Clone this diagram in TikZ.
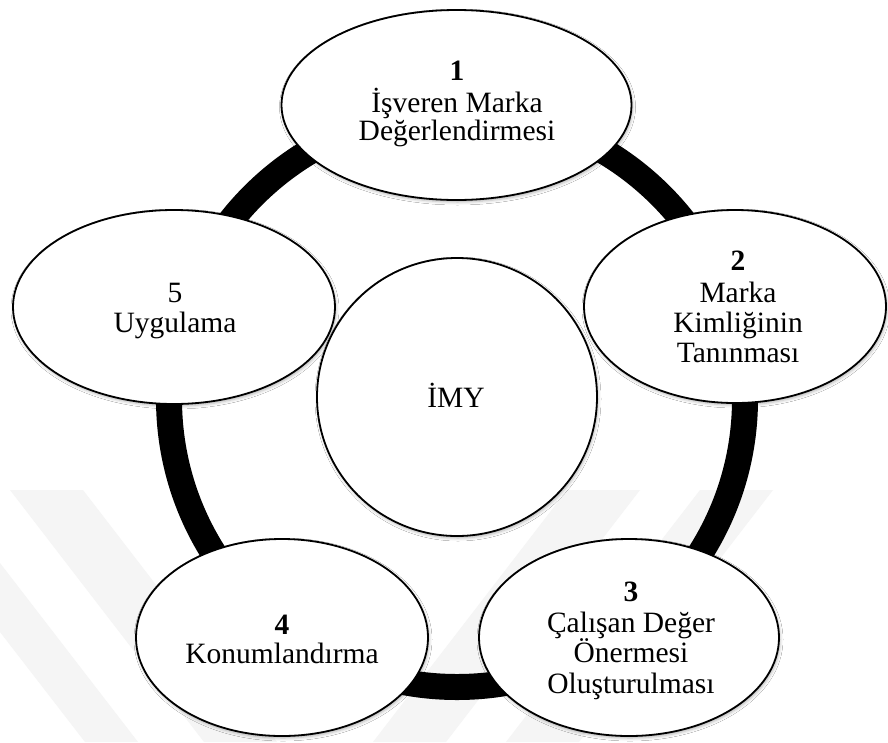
\documentclass[tikz,border=0pt]{standalone}
\usepackage{fontspec}
\setmainfont{Liberation Serif}
\usetikzlibrary{shapes.geometric,shadows.blur}

\begin{document}
\begin{tikzpicture}[x=1pt,y=-1pt,
  stage/.style={ellipse, draw=black, line width=1.8pt, fill=white, inner sep=0pt,
    blur shadow={shadow xshift=1pt, shadow yshift=-2pt, shadow blur radius=3pt, shadow opacity=30}},
  lbl/.style={anchor=base, inner sep=0pt, font=\fontsize{29.5}{30}\selectfont},
  num/.style={anchor=base, inner sep=0pt, font=\fontsize{29.5}{30}\selectfont\bfseries},
  band/.style={fill=black!4, draw=none}
]
% page area
\fill[white] (0,0) rectangle (888,742);
\useasboundingbox (0,0) rectangle (888,742);

% faint background emblem
\fill[band] (10,490) -- (83,490) -- (277,742) -- (204,742) -- cycle;
\fill[band] (0,563) -- (138,742) -- (85,742) -- (0,632) -- cycle;
\fill[band] (700,490) -- (773,490) -- (579,742) -- (506,742) -- cycle;
\fill[band] (567,490) -- (640,490) -- (446,742) -- (373,742) -- cycle;

% the cycle that joins the five stages
\node[circle, draw=black, line width=26pt, minimum size=576pt, inner sep=0pt] (ring) at (457,399) {};

% stages
\node[stage, minimum width=350pt, minimum height=190pt] (s1) at (456.5,105) {};
\node[stage, minimum width=302pt, minimum height=193pt] (s2) at (735,306.5) {};
\node[stage, minimum width=300pt, minimum height=197pt] (s3) at (629,637.5) {};
\node[stage, minimum width=292pt, minimum height=197pt] (s4) at (282,637.5) {};
\node[stage, minimum width=322pt, minimum height=194pt] (s5) at (174,307) {};
\node[stage, minimum width=280pt, minimum height=278pt] (core) at (457,397) {};

% stage texts
\node[num] (s1n) at (457,80) {1};
\node[lbl] (s1a) at (457,112) {İşveren Marka};
\node[lbl] (s1b) at (457,140) {Değerlendirmesi};

\node[num] (s2n) at (738,270) {2};
\node[lbl] (s2a) at (738,302) {Marka};
\node[lbl] (s2b) at (738,332) {Kimliğinin};
\node[lbl] (s2c) at (738,362) {Tanınması};

\node[num] (s3n) at (631,601) {3};
\node[lbl] (s3a) at (631,632) {Çalışan Değer};
\node[lbl] (s3b) at (631,662) {Önermesi};
\node[lbl] (s3c) at (631,693) {Oluşturulması};

\node[num] (s4n) at (282,634) {4};
\node[lbl] (s4a) at (282,663) {Konumlandırma};

\node[lbl] (s5n) at (175,302) {5};
\node[lbl] (s5a) at (175,332) {Uygulama};

\node[lbl] (coret) at (456,407) {İMY};
\end{tikzpicture}
\end{document}
